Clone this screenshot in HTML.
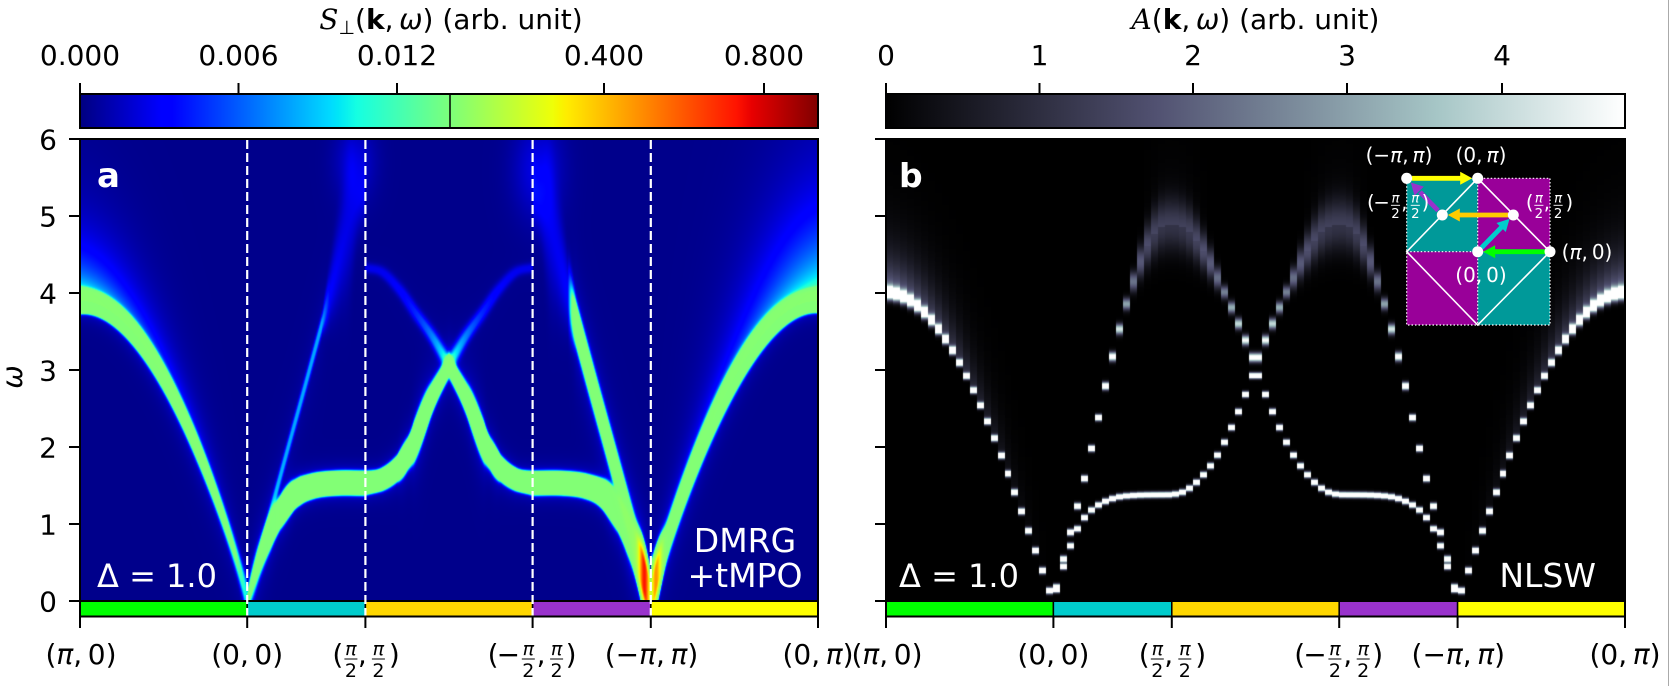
<!DOCTYPE html>
<html><head><meta charset="utf-8">
<style>
html,body{margin:0;padding:0;background:#fff;}
#wrap{position:relative;width:1670px;height:686px;overflow:hidden;background:#fff;}
canvas{position:absolute;}
#ca{left:80px;top:139px;background:#00008b;}
#cb{left:886px;top:139px;background:#000;}
svg{position:absolute;left:0;top:0;}
</style></head><body>
<div id="wrap">
<canvas id="ca" width="738" height="462"></canvas>
<canvas id="cb" width="739" height="462"></canvas>
<svg width="1670" height="686" viewBox="0 0 1670 686" xmlns="http://www.w3.org/2000/svg" font-family="'DejaVu Sans','Liberation Sans',sans-serif">
<defs>
<linearGradient id="jet" x1="0" y1="0" x2="1" y2="0">
<stop offset="0" stop-color="#000080"/><stop offset="0.11" stop-color="#0000ff"/><stop offset="0.125" stop-color="#0000ff"/>
<stop offset="0.34" stop-color="#00dbff"/><stop offset="0.35" stop-color="#00e6f7"/><stop offset="0.375" stop-color="#15ffe2"/>
<stop offset="0.5" stop-color="#7bff7b"/><stop offset="0.64" stop-color="#eeff08"/><stop offset="0.65" stop-color="#f7f600"/>
<stop offset="0.66" stop-color="#ffec00"/><stop offset="0.89" stop-color="#ff1300"/><stop offset="0.91" stop-color="#e80000"/>
<stop offset="1" stop-color="#800000"/>
</linearGradient>
<linearGradient id="bone" x1="0" y1="0" x2="1" y2="0">
<stop offset="0" stop-color="#000000"/><stop offset="0.365" stop-color="#515171"/><stop offset="0.746" stop-color="#a6c6c6"/><stop offset="1" stop-color="#ffffff"/>
</linearGradient>
</defs>

<!-- colorbar titles -->
<text x="451" y="29" text-anchor="middle" font-size="28"><tspan font-family="'DejaVu Serif',serif" font-style="italic">S</tspan><tspan font-size="19" dy="5">⊥</tspan><tspan dy="-5">(</tspan><tspan font-weight="bold">k</tspan>,&#8201;<tspan font-style="italic">ω</tspan>) (arb. unit)</text>
<text x="1255.5" y="29" text-anchor="middle" font-size="28"><tspan font-family="'DejaVu Serif',serif" font-style="italic">A</tspan>(<tspan font-weight="bold">k</tspan>,&#8201;<tspan font-style="italic">ω</tspan>) (arb. unit)</text>

<!-- colorbar a -->
<rect x="80" y="94" width="738" height="34" fill="url(#jet)" stroke="#000" stroke-width="2"/>
<line x1="450" y1="94" x2="450" y2="128" stroke="#000" stroke-width="1.5"/>
<g stroke="#000" stroke-width="2">
<line x1="80" y1="83" x2="80" y2="94"/><line x1="238.5" y1="83" x2="238.5" y2="94"/><line x1="397" y1="83" x2="397" y2="94"/><line x1="604" y1="83" x2="604" y2="94"/><line x1="764" y1="83" x2="764" y2="94"/>
</g>
<g font-size="28" text-anchor="middle">
<text x="80" y="65">0.000</text><text x="238.5" y="65">0.006</text><text x="397" y="65">0.012</text><text x="604" y="65">0.400</text><text x="764" y="65">0.800</text>
</g>

<!-- colorbar b -->
<rect x="886" y="94" width="739" height="34" fill="url(#bone)" stroke="#000" stroke-width="2"/>
<g stroke="#000" stroke-width="2">
<line x1="886" y1="83" x2="886" y2="94"/><line x1="1039.5" y1="83" x2="1039.5" y2="94"/><line x1="1193" y1="83" x2="1193" y2="94"/><line x1="1347" y1="83" x2="1347" y2="94"/><line x1="1502" y1="83" x2="1502" y2="94"/>
</g>
<g font-size="28" text-anchor="middle">
<text x="886" y="65">0</text><text x="1039.5" y="65">1</text><text x="1193" y="65">2</text><text x="1347" y="65">3</text><text x="1502" y="65">4</text>
</g>

<!-- colored path bars panel a -->
<g stroke="#000" stroke-width="1.5">
<rect x="80" y="601" width="167.2" height="15.5" fill="#00ff00"/>
<rect x="247.2" y="601" width="118.2" height="15.5" fill="#00cccc"/>
<rect x="365.4" y="601" width="167.2" height="15.5" fill="#ffd700"/>
<rect x="532.6" y="601" width="118.2" height="15.5" fill="#9932cc"/>
<rect x="650.8" y="601" width="167.2" height="15.5" fill="#ffff00"/>
</g>
<!-- colored path bars panel b -->
<g stroke="#000" stroke-width="1.5">
<rect x="886" y="601" width="167.4" height="15.5" fill="#00ff00"/>
<rect x="1053.4" y="601" width="118.4" height="15.5" fill="#00cccc"/>
<rect x="1171.8" y="601" width="167.4" height="15.5" fill="#ffd700"/>
<rect x="1339.2" y="601" width="118.4" height="15.5" fill="#9932cc"/>
<rect x="1457.6" y="601" width="167.4" height="15.5" fill="#ffff00"/>
</g>
<line x1="80" y1="601" x2="818" y2="601" stroke="#000" stroke-width="2"/>
<line x1="886" y1="601" x2="1625" y2="601" stroke="#000" stroke-width="2"/>

<!-- dashed lines panel a -->
<g stroke="#fff" stroke-width="2.2" stroke-dasharray="9 4">
<line x1="247.2" y1="140" x2="247.2" y2="616"/>
<line x1="365.4" y1="140" x2="365.4" y2="616"/>
<line x1="532.6" y1="140" x2="532.6" y2="616"/>
<line x1="650.8" y1="140" x2="650.8" y2="616"/>
</g>

<!-- frames -->
<rect x="80" y="139" width="738" height="477.5" fill="none" stroke="#000" stroke-width="2"/>
<rect x="886" y="139" width="739" height="477.5" fill="none" stroke="#000" stroke-width="2"/>

<!-- y ticks -->
<g stroke="#000" stroke-width="2">
<line x1="69" y1="601" x2="80" y2="601"/><line x1="69" y1="524" x2="80" y2="524"/><line x1="69" y1="447" x2="80" y2="447"/><line x1="69" y1="370" x2="80" y2="370"/><line x1="69" y1="293" x2="80" y2="293"/><line x1="69" y1="216" x2="80" y2="216"/><line x1="69" y1="139" x2="80" y2="139"/>
<line x1="875" y1="601" x2="886" y2="601"/><line x1="875" y1="524" x2="886" y2="524"/><line x1="875" y1="447" x2="886" y2="447"/><line x1="875" y1="370" x2="886" y2="370"/><line x1="875" y1="293" x2="886" y2="293"/><line x1="875" y1="216" x2="886" y2="216"/><line x1="875" y1="139" x2="886" y2="139"/>
</g>
<g font-size="28" text-anchor="end">
<text x="57" y="611.5">0</text><text x="57" y="534.5">1</text><text x="57" y="457.5">2</text><text x="57" y="380.5">3</text><text x="57" y="303.5">4</text><text x="57" y="226.5">5</text><text x="57" y="149.5">6</text>
</g>
<text transform="translate(22,377) rotate(-90)" text-anchor="middle" font-size="28" font-style="italic">ω</text>

<!-- x ticks -->
<g stroke="#000" stroke-width="2">
<line x1="80" y1="616" x2="80" y2="628"/><line x1="247.2" y1="616" x2="247.2" y2="628"/><line x1="365.4" y1="616" x2="365.4" y2="628"/><line x1="532.6" y1="616" x2="532.6" y2="628"/><line x1="650.8" y1="616" x2="650.8" y2="628"/><line x1="818" y1="616" x2="818" y2="628"/>
<line x1="886" y1="616" x2="886" y2="628"/><line x1="1053.4" y1="616" x2="1053.4" y2="628"/><line x1="1171.8" y1="616" x2="1171.8" y2="628"/><line x1="1339.2" y1="616" x2="1339.2" y2="628"/><line x1="1457.6" y1="616" x2="1457.6" y2="628"/><line x1="1625" y1="616" x2="1625" y2="628"/>
</g>

<!-- x tick labels -->
<g font-size="28" text-anchor="middle">
<text x="81" y="664">(<tspan font-style="italic">π</tspan>,&#8201;0)</text>
<text x="247.2" y="664">(0,&#8201;0)</text>
<text x="651.5" y="664">(−<tspan font-style="italic">π</tspan>,&#8201;<tspan font-style="italic">π</tspan>)</text>
<text x="818" y="664">(0,&#8201;<tspan font-style="italic">π</tspan>)</text>
<text x="887" y="664">(<tspan font-style="italic">π</tspan>,&#8201;0)</text>
<text x="1053.4" y="664">(0,&#8201;0)</text>
<text x="1458.3" y="664">(−<tspan font-style="italic">π</tspan>,&#8201;<tspan font-style="italic">π</tspan>)</text>
<text x="1625" y="664">(0,&#8201;<tspan font-style="italic">π</tspan>)</text>
</g>

<!-- fraction labels (pi/2, pi/2) -->
<g transform="translate(365.4 0)" font-size="28">
<text x="-33" y="664">(</text>
<text x="-14.5" y="655" font-size="19" text-anchor="middle" font-style="italic">π</text>
<line x1="-21" y1="659" x2="-8" y2="659" stroke="#000" stroke-width="1"/>
<text x="-14.5" y="677" font-size="19" text-anchor="middle">2</text>
<text x="-7.5" y="664">,</text>
<text x="13" y="655" font-size="19" text-anchor="middle" font-style="italic">π</text>
<line x1="6.5" y1="659" x2="19.5" y2="659" stroke="#000" stroke-width="1"/>
<text x="13" y="677" font-size="19" text-anchor="middle">2</text>
<text x="23.5" y="664">)</text>
</g>
<g transform="translate(1171.8 0)" font-size="28">
<text x="-33" y="664">(</text>
<text x="-14.5" y="655" font-size="19" text-anchor="middle" font-style="italic">π</text>
<line x1="-21" y1="659" x2="-8" y2="659" stroke="#000" stroke-width="1"/>
<text x="-14.5" y="677" font-size="19" text-anchor="middle">2</text>
<text x="-7.5" y="664">,</text>
<text x="13" y="655" font-size="19" text-anchor="middle" font-style="italic">π</text>
<line x1="6.5" y1="659" x2="19.5" y2="659" stroke="#000" stroke-width="1"/>
<text x="13" y="677" font-size="19" text-anchor="middle">2</text>
<text x="23.5" y="664">)</text>
</g>
<!-- (-pi/2, pi/2) -->
<g transform="translate(532.6 0)" font-size="28">
<text x="-45" y="664">(</text>
<text x="-36" y="664">−</text>
<text x="-4.3" y="655" font-size="19" text-anchor="middle" font-style="italic">π</text>
<line x1="-10.8" y1="659" x2="2.2" y2="659" stroke="#000" stroke-width="1"/>
<text x="-4.3" y="677" font-size="19" text-anchor="middle">2</text>
<text x="4" y="664">,</text>
<text x="24" y="655" font-size="19" text-anchor="middle" font-style="italic">π</text>
<line x1="17.5" y1="659" x2="30.5" y2="659" stroke="#000" stroke-width="1"/>
<text x="24" y="677" font-size="19" text-anchor="middle">2</text>
<text x="33" y="664">)</text>
</g>
<g transform="translate(1339.2 0)" font-size="28">
<text x="-45" y="664">(</text>
<text x="-36" y="664">−</text>
<text x="-4.3" y="655" font-size="19" text-anchor="middle" font-style="italic">π</text>
<line x1="-10.8" y1="659" x2="2.2" y2="659" stroke="#000" stroke-width="1"/>
<text x="-4.3" y="677" font-size="19" text-anchor="middle">2</text>
<text x="4" y="664">,</text>
<text x="24" y="655" font-size="19" text-anchor="middle" font-style="italic">π</text>
<line x1="17.5" y1="659" x2="30.5" y2="659" stroke="#000" stroke-width="1"/>
<text x="24" y="677" font-size="19" text-anchor="middle">2</text>
<text x="33" y="664">)</text>
</g>

<!-- annotations -->
<g fill="#fff">
<text x="97" y="187" font-size="34" font-weight="bold">a</text>
<text x="899" y="187" font-size="33" font-weight="bold">b</text>
<text x="97" y="587" font-size="32">Δ = 1.0</text>
<text x="899" y="587" font-size="32">Δ = 1.0</text>
<text x="745" y="552" font-size="33" text-anchor="middle">DMRG</text>
<text x="745" y="587" font-size="33" text-anchor="middle">+tMPO</text>
<text x="1596" y="587" font-size="33" text-anchor="end">NLSW</text>
</g>

<!-- inset -->
<g>
<rect x="1406.7" y="178.3" width="71" height="73.4" fill="#009999"/>
<rect x="1477.7" y="178.3" width="72.3" height="73.4" fill="#990099"/>
<rect x="1406.7" y="251.7" width="71" height="73.3" fill="#990099"/>
<rect x="1477.7" y="251.7" width="72.3" height="73.3" fill="#009999"/>
<g stroke="#fff" stroke-width="1.2" stroke-dasharray="1.5 2" fill="none">
<rect x="1406.7" y="178.3" width="143.3" height="146.7"/>
<line x1="1477.7" y1="178.3" x2="1477.7" y2="325"/>
<line x1="1406.7" y1="251.7" x2="1550" y2="251.7"/>
</g>
<path d="M1477.7 178.3 L1550 251.7 L1477.7 325 L1406.7 251.7 Z" fill="none" stroke="#fff" stroke-width="1.6"/>
<!-- arrows -->
<line x1="1545" y1="251.7" x2="1494" y2="251.7" stroke="#00ff00" stroke-width="4.8"/>
<polygon points="1483.2,251.7 1495.2,245.2 1495.2,258.2" fill="#00ff00"/>
<line x1="1481.5" y1="247.8" x2="1502" y2="226.7" stroke="#00cccc" stroke-width="4.8"/>
<polygon points="1509.5,218.9 1505.8,232.0 1496.5,223.0" fill="#00cccc"/>
<line x1="1508" y1="215" x2="1459" y2="215" stroke="#ffcc00" stroke-width="4.8"/>
<polygon points="1447.8,215 1459.8,208.5 1459.8,221.5" fill="#ffcc00"/>
<line x1="1438" y1="210.5" x2="1420" y2="192" stroke="#9932cc" stroke-width="4.8"/>
<polygon points="1410.8,182.5 1423.8,186.6 1414.5,195.6" fill="#9932cc"/>
<line x1="1412" y1="178.3" x2="1461" y2="178.3" stroke="#ffff00" stroke-width="4.8"/>
<polygon points="1472.2,178.3 1460.2,171.8 1460.2,184.8" fill="#ffff00"/>
<g fill="#fff">
<circle cx="1406.7" cy="178.3" r="5.5"/><circle cx="1477.7" cy="178.3" r="5.5"/>
<circle cx="1442.3" cy="215" r="5.5"/><circle cx="1513.3" cy="215" r="5.5"/>
<circle cx="1477.7" cy="251.7" r="5.5"/><circle cx="1550" cy="251.7" r="5.5"/>
</g>
<g fill="#fff" font-size="20" text-anchor="middle">
<text x="1399" y="162">(−<tspan font-style="italic">π</tspan>,&#8201;<tspan font-style="italic">π</tspan>)</text>
<text x="1481" y="162">(0,&#8201;<tspan font-style="italic">π</tspan>)</text>
<text x="1587" y="259">(<tspan font-style="italic">π</tspan>,&#8201;0)</text>
<text x="1481" y="282">(0,&#8201;0)</text>
</g>
<g transform="translate(1549 206) scale(0.7) translate(0 -660)" font-size="28" fill="#fff">
<text x="-33" y="664">(</text>
<text x="-14.5" y="655" font-size="19" text-anchor="middle" font-style="italic">π</text>
<line x1="-21" y1="659" x2="-8" y2="659" stroke="#fff" stroke-width="1.3"/>
<text x="-14.5" y="677" font-size="19" text-anchor="middle">2</text>
<text x="-7.5" y="664">,</text>
<text x="13" y="655" font-size="19" text-anchor="middle" font-style="italic">π</text>
<line x1="6.5" y1="659" x2="19.5" y2="659" stroke="#fff" stroke-width="1.3"/>
<text x="13" y="677" font-size="19" text-anchor="middle">2</text>
<text x="23.5" y="664">)</text>
</g>
<g transform="translate(1398.5 206) scale(0.7) translate(0 -660)" font-size="28" fill="#fff">
<text x="-45" y="664">(</text>
<text x="-36" y="664">−</text>
<text x="-4.3" y="655" font-size="19" text-anchor="middle" font-style="italic">π</text>
<line x1="-10.8" y1="659" x2="2.2" y2="659" stroke="#fff" stroke-width="1.3"/>
<text x="-4.3" y="677" font-size="19" text-anchor="middle">2</text>
<text x="4" y="664">,</text>
<text x="24" y="655" font-size="19" text-anchor="middle" font-style="italic">π</text>
<line x1="17.5" y1="659" x2="30.5" y2="659" stroke="#fff" stroke-width="1.3"/>
<text x="24" y="677" font-size="19" text-anchor="middle">2</text>
<text x="33" y="664">)</text>
</g>
</g>

<line x1="1668.5" y1="0" x2="1668.5" y2="686" stroke="#aaa" stroke-width="1"/>
</svg>
</div>
<script>
(function(){
var PI=Math.PI,T=3*PI+2*PI/Math.SQRT2,S=77,H=462;
function bounds(W){var a=W*PI/T,b=W*(PI/Math.SQRT2)/T;return [0,a,a+b,2*a+b,2*a+2*b,W];}
function mk(pts){
 var n=pts.length,xs=[],ys=[],m=[],i;
 for(i=0;i<n;i++){xs.push(pts[i][0]);ys.push(pts[i][1]);}
 for(i=0;i<n;i++){
  if(i==0)m[i]=(ys[1]-ys[0])/(xs[1]-xs[0]);
  else if(i==n-1)m[i]=(ys[n-1]-ys[n-2])/(xs[n-1]-xs[n-2]);
  else m[i]=(ys[i+1]-ys[i-1])/(xs[i+1]-xs[i-1]);
 }
 return function(x){
  if(x<=xs[0])return ys[0]; if(x>=xs[n-1])return ys[n-1];
  var k=0; while(x>xs[k+1])k++;
  var h=xs[k+1]-xs[k],t=(x-xs[k])/h,t2=t*t,t3=t2*t;
  return (2*t3-3*t2+1)*ys[k]+(t3-2*t2+t)*h*m[k]+(-2*t3+3*t2)*ys[k+1]+(t3-t2)*h*m[k+1];
 };
}
function jet(x){
 x=x<0?0:x>1?1:x; var r,g,b;
 if(x<0.35)r=0;else if(x<0.66)r=(x-0.35)/0.31;else if(x<0.89)r=1;else r=1-(x-0.89)/0.11*0.5;
 if(x<0.125)g=0;else if(x<0.375)g=(x-0.125)/0.25;else if(x<0.64)g=1;else if(x<0.91)g=1-(x-0.64)/0.27;else g=0;
 if(x<0.11)b=0.5+x/0.11*0.5;else if(x<0.34)b=1;else if(x<0.65)b=1-(x-0.34)/0.31;else b=0;
 return [r*255,g*255,b*255];
}
function bone(x){
 x=x<0?0:x>1?1:x; var r,g,b;
 r=x<0.746032?x/0.746032*0.652778:0.652778+(x-0.746032)/0.253968*0.347222;
 g=x<0.365079?x/0.365079*0.319444:(x<0.746032?0.319444+(x-0.365079)/0.380953*0.458334:0.777778+(x-0.746032)/0.253968*0.222222);
 b=x<0.365079?x/0.365079*0.444444:0.444444+(x-0.365079)/0.634921*0.555556;
 return [r*255,g*255,b*255];
}
/* ---------- Panel A (DMRG) ---------- */
try{
var WA=738,BA=bounds(WA);
var Sa1=function(t){return 3.9*Math.pow(Math.max(0,Math.sin(PI*(1-t)/2)),0.85);};
var Ua=mk([[0,0],[0.25,1.45],[0.5,2.85],[0.675,3.84],[0.8,4.55],[0.9,5.05],[1,5.3]]);
var La=mk([[0,0],[0.1,0.52],[0.2,0.92],[0.28,1.15],[0.4,1.38],[0.55,1.49],[0.75,1.53],[1,1.53]]);
var Aa=mk([[0,1.53],[0.1,1.58],[0.19,1.72],[0.25,1.9],[0.29,2.06],[0.39,2.6],[0.5,3.06]]);
var Ba=mk([[0,4.33],[0.1,4.27],[0.2,4.05],[0.3,3.74],[0.4,3.43],[0.5,3.06]]);
function red(w){var z=(w-0.3)/0.22;return 30*Math.exp(-z*z);}
function faintAmp(w,base){
 if(w<3.6)return base;
 if(w<4.0)return base-(w-3.6)/0.4*(base-0.18);
 return Math.max(0.12,0.18-(w-4)*0.05);
}
function faintE(w,base){return w<3.6?base:Math.min(12,base+(w-3.6)*8);}
function brA(p){
 var b1=BA[1],b2=BA[2],b3=BA[3],b4=BA[4],W=WA,o=[];
 if(p<b1){
  var t=p/b1;
  o.push({f:function(pp){return Sa1(pp/b1);},amp:1.75*(t<0.7?1:1-(t-0.7)/0.3*0.65),r:0,h:1+9.5*Math.pow(1-t,1.8),e:2,gu:0.9*Math.pow(1-t,1.5),gs:0.5});
 } else if(p<b2){
  var L=b2-b1,u=(p-b1)/L;
  var fU=function(pp){return Ua((pp-b1)/L);},fL=function(pp){return La((pp-b1)/L);};
  var wU=fU(p);
  o.push({f:fU,amp:faintAmp(wU,0.5),r:0,h:wU<3.6?0.6:0.3,e:faintE(wU,1.3),gu:0,gs:1});
  o.push({f:fL,amp:0.6+1.15*Math.min(1,u/0.3),r:0,h:1+8.5*Math.min(1,u/0.45),e:2,gu:0,gs:1});
 } else if(p<b3){
  var L3=b3-b2,w=(p-b2)/L3,wl=w<=0.5?w:1-w;
  var mm=function(F){return function(pp){var ww=(pp-b2)/L3;return F(ww<=0.5?ww:1-ww);};};
  o.push({f:mm(Aa),amp:1.65,r:0,h:9-6.5*(wl/0.5),e:2,gu:0,gs:1});
  o.push({f:mm(Ba),amp:0.15+0.55*Math.pow(wl/0.5,3),r:0,h:1,e:3,gu:0,gs:1});
 } else if(p<b4){
  var L4=b4-b3,v=(p-b3)/L4,up=1-v;
  var gL=function(pp){return La(1-(pp-b3)/L4);},gU=function(pp){return Ua(1-(pp-b3)/L4);};
  var wL=gL(p),wU2=gU(p);
  o.push({f:gL,amp:1.75,r:red(wL),h:3+6*Math.min(1,up/0.4),e:2.2,gu:0,gs:1});
  var hU=wU2<3.6?3:(wU2<4.0?3-(wU2-3.6)/0.4*2:1);
  o.push({f:gU,amp:faintAmp(wU2,1.6),r:0.5*red(wU2),h:hU,e:faintE(wU2,2),gu:0,gs:1});
 } else {
  var L5=W-b4,tp=(W-p)/L5;
  var f5=function(pp){return Sa1((W-pp)/L5);};
  var w5=f5(p);
  o.push({f:f5,amp:1.75,r:red(w5),h:2+7*Math.pow(1-tp,1.2),e:2.2,gu:1.0*Math.pow(1-tp,1.5),gs:0.8});
 }
 return o;
}
var ca=document.getElementById('ca'),ctx=ca.getContext('2d');
var img=ctx.createImageData(WA,H),d=img.data;
for(var x=0;x<WA;x++){
 var p=x+0.5,brs=brA(p),pre=[];
 for(var i=0;i<brs.length;i++){
  var b=brs[i],w=b.f(p),sl=(b.f(p+0.5)-b.f(p-0.5))*S;
  pre.push({yb:(6-w)*S,c:1/Math.sqrt(1+sl*sl),b:b});
 }
 for(var y=0;y<H;y++){
  var yy=y+0.5,om=6-yy/S,I=0.02;
  for(var j=0;j<pre.length;j++){
   var q=pre[j],bb=q.b,dy=yy-q.yb,dp=Math.abs(dy)*q.c,ex=dp-bb.h;
   var f=ex<=0?1:Math.exp(-0.5*(ex/bb.e)*(ex/bb.e));
   var tail=0.12*Math.exp(-Math.max(0,ex)/6);
   I+=(bb.amp+bb.r)*f+bb.amp*tail;
   if(bb.gu>0&&dy<0)I+=bb.gu*Math.exp(-(-dy/S)/bb.gs);
  }
  var z1=(p-275)/14,z2=(om-5.7)/0.35;I+=0.14*Math.exp(-0.5*(z1*z1+z2*z2));
  z1=(p-458)/17;z2=(om-5.6)/0.45;I+=0.16*Math.exp(-0.5*(z1*z1+z2*z2));
  var pos=I<1?0.5*I:0.5+(I-1)*0.0082;
  var c=jet(pos),k=(y*WA+x)*4;
  d[k]=c[0];d[k+1]=c[1];d[k+2]=c[2];d[k+3]=255;
 }
}
ctx.putImageData(img,0,0);
}catch(e){}
/* ---------- Panel B (NLSW) ---------- */
try{
var WB=739,BB=bounds(WB);
var S1=function(t){return 4*Math.sin(PI*(1-t)/2);};
var Ub=mk([[0,0],[0.1,0.62],[0.25,1.5],[0.37,2.3],[0.48,3.05],[0.62,3.87],[0.76,4.5],[0.88,4.82],[1,4.9]]);
var Lb=mk([[0,0],[0.07,0.36],[0.14,0.69],[0.22,0.98],[0.33,1.19],[0.5,1.33],[0.67,1.37],[1,1.38]]);
var Ab=mk([[0,1.38],[0.06,1.41],[0.12,1.49],[0.18,1.62],[0.25,1.82],[0.31,2.05],[0.37,2.33],[0.43,2.64],[0.5,3.05]]);
var Bb=mk([[0,4.9],[0.1,4.8],[0.2,4.5],[0.27,4.2],[0.33,3.93],[0.4,3.58],[0.45,3.32],[0.5,3.05]]);
function ampU(w){return w<2.5?8:(w<4?8-(w-2.5)/1.5*5.5:Math.max(0.9,2.5-(w-4)*1.6));}
function sigU(w){return w<2.5?0.026:(w<4?0.026+(w-2.5)/1.5*0.03:0.056+(w-4)*0.2);}
function guU(w){return w>4.4?(w-4.4)*0.6:0;}
function brB(q){
 var b1=BB[1],b2=BB[2],W=WB,o=[];
 if(q<b1){var t=q/b1,w=S1(t);o.push({w:w,amp:8,s:0.026+0.03*Math.max(0,w-3),gu:3*Math.pow(1-t,1.5),gs:0.35});}
 else if(q<b2){var u=(q-b1)/(b2-b1),wu=Ub(u),wl=Lb(u);
  o.push({w:wu,amp:ampU(wu),s:sigU(wu),gu:guU(wu),gs:0.5});
  o.push({w:wl,amp:8,s:0.024,gu:0,gs:1});}
 else{var ww=(q-b2)/(W-2*b2),wa=Ab(ww),wb=Bb(ww);
  o.push({w:wa,amp:8,s:0.024,gu:0,gs:1});
  o.push({w:wb,amp:ampU(wb),s:sigU(wb),gu:guU(wb),gs:0.5});}
 return o;
}
var cb=document.getElementById('cb'),cx=cb.getContext('2d');
var ib=cx.createImageData(WB,H),db=ib.data;
var NC=106,cw=WB/NC;
for(var cc=0;cc<NC;cc++){
 var pc=(cc+0.5)*cw,qq=Math.min(pc,WB-pc),bs=brB(qq);
 var x0=Math.round(cc*cw),x1=Math.round((cc+1)*cw);
 for(var yb=0;yb<H;yb++){
  var om2=6-(yb+0.5)/S,V=0;
  for(var jj=0;jj<bs.length;jj++){
   var B=bs[jj],dd=om2-B.w;
   V+=B.amp*Math.exp(-0.5*dd*dd/(B.s*B.s));
   if(B.gu>0&&dd>0)V+=B.gu*Math.exp(-dd/B.gs);
  }
  var col=bone(V/4.8);
  for(var xx=x0;xx<x1;xx++){var kk=(yb*WB+xx)*4;db[kk]=col[0];db[kk+1]=col[1];db[kk+2]=col[2];db[kk+3]=255;}
 }
}
cx.putImageData(ib,0,0);
}catch(e){}
})();
</script>
</body></html>
